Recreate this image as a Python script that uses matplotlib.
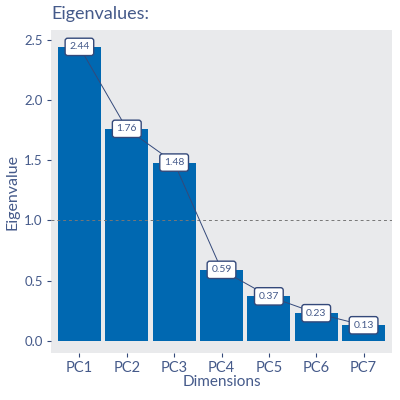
import matplotlib
matplotlib.use("Agg")
import matplotlib.pyplot as plt

dims = ["PC1", "PC2", "PC3", "PC4", "PC5", "PC6", "PC7"]
tick_labels = ["PC1", "PC2", "PC3", "PC4", "PC5", "PC6", "PC7"]
eigenvalues = [2.44, 1.76, 1.48, 0.59, 0.37, 0.23, 0.13]

txt = "#455a8a"
edge = "#34497a"
bar_c = "#0068b1"
plt.rcParams['font.family'] = ['Lato', 'DejaVu Sans']

fig = plt.figure(figsize=(4, 4), dpi=100)
ax = fig.add_axes([0.1275, 0.1175, 0.8525, 0.8075])
ax.set_facecolor("#e9eaec")
x = list(range(1, len(dims) + 1))
ax.bar(x, eigenvalues, width=0.91, color=bar_c, zorder=2)
ax.axhline(1.0, color="#777777", linestyle=(0, (3, 3)), linewidth=0.7, zorder=3)
ax.plot(x, eigenvalues, color=edge, linewidth=0.7, zorder=4)
for xi, v in zip(x, eigenvalues):
    ax.text(xi, v, f"{v:.2f}", ha="center", va="center", fontsize=7.5, color=txt, zorder=5,
            bbox=dict(boxstyle="round,pad=0.4,rounding_size=0.25", fc="white", ec=edge, lw=1.0))

ax.set_xlim(0.40, 7.60)
ax.set_ylim(-0.1, 2.58)
ax.set_xticks(x)
ax.set_xticklabels(tick_labels, fontsize=10.5, color=txt)
ax.set_yticks([0, 0.5, 1.0, 1.5, 2.0, 2.5])
ax.set_yticklabels(["0.0", "0.5", "1.0", "1.5", "2.0", "2.5"], fontsize=9.5, color=txt)
ax.tick_params(axis="both", colors=edge, length=3, width=0.8, labelcolor=txt, pad=3)
for s in ax.spines.values():
    s.set_visible(False)
ax.set_xlabel("Dimensions", fontsize=11, color=txt, labelpad=0)
ax.set_ylabel("Eigenvalue", fontsize=11.5, color=txt, labelpad=3)
fig.text(0.1275, 0.952, "Eigenvalues:", fontsize=13, color=txt, ha="left", va="baseline")
fig.savefig("out.png", dpi=100)
